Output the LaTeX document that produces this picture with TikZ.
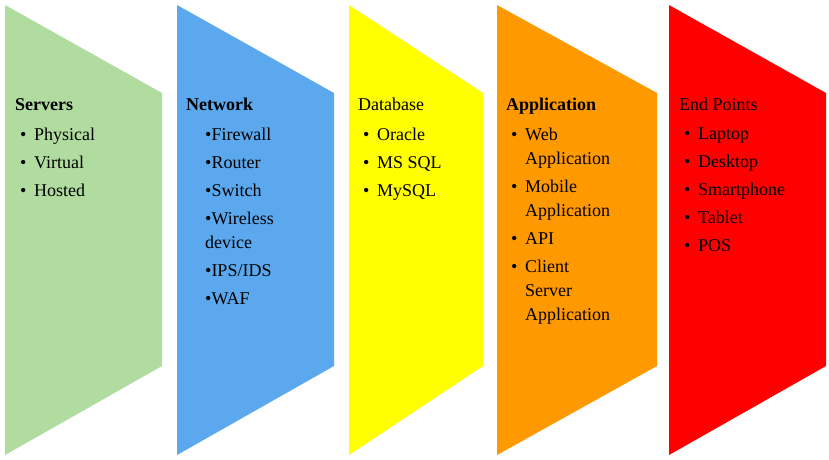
\documentclass[tikz,border=0pt]{standalone}
\usepackage{fontspec}
\setmainfont{Liberation Serif}
\usetikzlibrary{positioning}
\definecolor{srvgreen}{HTML}{B0DCA0}
\definecolor{netblue}{HTML}{5BA8EE}
\definecolor{dbyellow}{HTML}{FFFF00}
\definecolor{apporange}{HTML}{FF9900}
\definecolor{epred}{HTML}{FF0000}
\newcommand{\bul}{\makebox[14pt][l]{\textbullet}}
\newcommand{\cont}{\hspace*{14pt}}

\begin{document}
\begin{tikzpicture}[x=1pt,y=-1pt]
    \tikzstyle{every node}=[font=\fontsize{18}{24}\selectfont,inner sep=0pt]
    \tikzstyle{head}=[anchor=base west]
    \tikzstyle{items}=[anchor=north west,align=left]
    \useasboundingbox (0,0) rectangle (829,459);
    %%% Shapes
    \fill[srvgreen] (5,5) -- (162,93) -- (162,366) -- (5,455) -- cycle;
    \fill[netblue] (177,5) -- (334,93) -- (334,366) -- (177,455) -- cycle;
    \fill[dbyellow] (349,5) -- (483,93) -- (483,366) -- (349,455) -- cycle;
    \fill[apporange] (497,5) -- (657,93) -- (657,366) -- (497,455) -- cycle;
    \fill[epred] (669,5) -- (826,93) -- (826,366) -- (669,455) -- cycle;

    %%% Servers
    \node[head] (srvh) at (15,110) {\textbf{Servers}};
    \node[items] (srvl) at (20,128) {\bul Physical\\[4pt]\bul Virtual\\[4pt]\bul Hosted};
    %%% Network
    \node[head] (neth) at (186,110) {\textbf{Network}};
    \node[items] (netl) at (205,128) {\textbullet Firewall\\[4pt]\textbullet Router\\[4pt]\textbullet Switch\\[4pt]\textbullet Wireless\\device\\[4pt]\textbullet IPS/IDS\\[4pt]\textbullet WAF};
    %%% Database
    \node[head] (dbh) at (358,110) {Database};
    \node[items] (dbl) at (363,128) {\bul Oracle\\[4pt]\bul MS SQL\\[4pt]\bul MySQL};
    %%% Application
    \node[head] (apph) at (506,110) {\textbf{Application}};
    \node[items] (appl) at (511,128) {\bul Web\\\cont Application\\[4pt]\bul Mobile\\\cont Application\\[4pt]\bul API\\[4pt]\bul Client\\\cont Server\\\cont Application};
    %%% End Points
    \node[head] (eph) at (679,110) {End Points};
    \node[items] (epl) at (684,128) {\bul Laptop\\[4pt]\bul Desktop\\[4pt]\bul Smartphone\\[4pt]\bul Tablet\\[4pt]\bul POS};
\end{tikzpicture}
\end{document}
